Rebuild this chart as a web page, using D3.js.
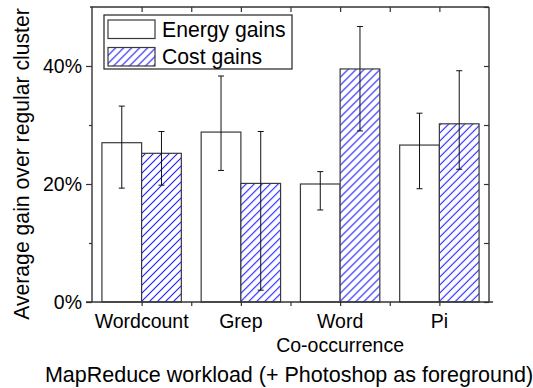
<!DOCTYPE html>
<html>
<head>
<meta charset="utf-8">
<script src="https://cdn.jsdelivr.net/npm/d3@7"></script>
<style>
  body { margin: 0; background: #fff; }
  svg { display: block; font-family: "Liberation Sans", Arial, sans-serif; }
</style>
</head>
<body>
<svg id="chart" width="533" height="388"></svg>
<script>
// Workloads on the x axis (second line of a label goes below the first)
const categories = ["Wordcount", "Grep", "Word\nCo-occurrence", "Pi"];
const seriesNames = ["Energy gains", "Cost gains"];

// Average gains (%) and error bar extents (%)
const energyGains = [27.0, 28.8, 20.0, 26.6];
const energyLow   = [19.3, 22.3, 15.6, 19.2];
const energyHigh  = [33.2, 38.3, 22.1, 32.0];

const costGains   = [25.2, 20.1, 39.5, 30.2];
const costLow     = [19.8, 2.0, 29.0, 22.5];
const costHigh    = [28.9, 28.9, 46.7, 39.2];

const yMajorTicks = [0, 20, 40];
const yMinorTicks = [10, 30];

const svg = d3.select("#chart");
const margin = { top: 7, right: 44, bottom: 86, left: 92 };
const W = 533, H = 388;
const innerW = W - margin.left - margin.right;
const innerH = H - margin.top - margin.bottom;

const defs = svg.append("defs");
const hatch = defs.append("pattern")
  .attr("id", "hatch")
  .attr("patternUnits", "userSpaceOnUse")
  .attr("width", 8).attr("height", 8);
hatch.append("rect").attr("width", 8).attr("height", 8).attr("fill", "#fff");
hatch.append("path")
  .attr("d", "M-2,2 l4,-4 M0,8 l8,-8 M6,10 l4,-4")
  .attr("stroke", "#1c1cff").attr("stroke-width", 1.1);

const g = svg.append("g").attr("transform", `translate(${margin.left},${margin.top})`);

const x = d3.scaleBand().domain(categories).range([0, innerW]);
const xs = d3.scaleBand().domain(seriesNames).range([0, x.bandwidth()]).paddingOuter(0.25).paddingInner(0);
const y = d3.scaleLinear().domain([0, 50]).range([innerH, 0]);

const rows = categories.map((c, i) => ({
  cat: c,
  bars: [
    { s: seriesNames[0], v: energyGains[i], lo: energyLow[i], hi: energyHigh[i] },
    { s: seriesNames[1], v: costGains[i], lo: costLow[i], hi: costHigh[i] }
  ]
}));

// Bars
const grp = g.selectAll(".cat").data(rows).join("g")
  .attr("transform", d => `translate(${x(d.cat)},0)`);

grp.selectAll("rect").data(d => d.bars).join("rect")
  .attr("x", d => xs(d.s))
  .attr("width", xs.bandwidth())
  .attr("y", d => y(d.v))
  .attr("height", d => innerH - y(d.v))
  .attr("fill", d => d.s === seriesNames[0] ? "#fff" : "url(#hatch)")
  .attr("stroke", "#3a3a3a")
  .attr("stroke-width", 1.2);

// Error bars
const cap = 3;
const eb = grp.selectAll(".err").data(d => d.bars).join("g").attr("class", "err")
  .attr("transform", d => `translate(${xs(d.s) + xs.bandwidth() / 2},0)`)
  .attr("stroke", "#111").attr("stroke-width", 1);
eb.append("line").attr("y1", d => y(d.lo)).attr("y2", d => y(d.hi));
eb.append("line").attr("x1", -cap).attr("x2", cap).attr("y1", d => y(d.hi)).attr("y2", d => y(d.hi));
eb.append("line").attr("x1", -cap).attr("x2", cap).attr("y1", d => y(d.lo)).attr("y2", d => y(d.lo));

// Axes
const fmt = d => d + "%";
const axisColor = "#333";

const yLeft = g.append("g")
  .call(d3.axisLeft(y).tickValues(yMajorTicks).tickFormat(fmt).tickSize(6).tickPadding(4));
yLeft.append("g")
  .call(d3.axisLeft(y).tickValues(yMinorTicks).tickFormat("").tickSize(3));
yLeft.selectAll(".domain").filter((d, i, n) => n[i].parentNode !== yLeft.node()).remove();

const yRight = g.append("g").attr("transform", `translate(${innerW},0)`)
  .call(d3.axisLeft(y).tickValues(yMajorTicks.concat(yMinorTicks, [50])).tickFormat("").tickSize(5));

// Tick positions along x: category centres and the boundaries between them
const xTickPos = [];
categories.forEach((c, i) => {
  if (i > 0) xTickPos.push(x(c));
  xTickPos.push(x(c) + x.bandwidth() / 2);
});
const xPos = d3.scaleIdentity().domain([0, innerW]);

const xTop = g.append("g")
  .call(d3.axisBottom(xPos).tickValues(xTickPos).tickFormat("").tickSize(5).tickSizeOuter(0));
const xBot = g.append("g").attr("transform", `translate(0,${innerH})`)
  .call(d3.axisBottom(xPos).tickValues(xTickPos).tickFormat("").tickSize(4).tickSizeOuter(0));

[yLeft, yRight, xTop, xBot].forEach(a => {
  a.selectAll("path.domain").attr("stroke", axisColor).attr("stroke-width", 1.4);
  a.selectAll(".tick line").attr("stroke", axisColor).attr("stroke-width", 1.2);
});
yRight.select("path.domain").attr("d", `M0,0V${innerH}`);
yLeft.select("path.domain").attr("d", `M0,0V${innerH}`);
// bottom axis line runs slightly past the frame on the left
xBot.select("path.domain").attr("d", `M-6,0H${innerW + 4}`);
xTop.select("path.domain").attr("d", `M-2,0H${innerW}`);

yLeft.selectAll(".tick text")
  .attr("font-size", 19.5).attr("fill", "#000")
  .attr("font-family", "Liberation Sans, Arial, sans-serif");

// Category labels
const catLabels = g.append("g").attr("transform", `translate(0,${innerH})`);
categories.forEach(c => {
  const lines = c.split("\n");
  const t = catLabels.append("text")
    .attr("x", x(c) + x.bandwidth() / 2)
    .attr("y", 25.5)
    .attr("text-anchor", "middle")
    .attr("font-size", 19.5)
    .attr("fill", "#000");
  lines.forEach((ln, k) => {
    t.append("tspan").attr("x", x(c) + x.bandwidth() / 2).attr("dy", k === 0 ? 0 : 24.5).text(ln);
  });
});

// Axis titles
svg.append("text")
  .attr("x", 289).attr("y", 382)
  .attr("text-anchor", "middle")
  .attr("font-size", 21.5).attr("fill", "#000")
  .text("MapReduce workload (+ Photoshop as foreground)");

svg.append("text")
  .attr("transform", "translate(29,164) rotate(-90)")
  .attr("text-anchor", "middle")
  .attr("font-size", 21.2).attr("fill", "#000")
  .text("Average gain over regular cluster");

// Legend
const legend = svg.append("g").attr("transform", "translate(104,15)");
legend.append("rect")
  .attr("width", 188).attr("height", 54)
  .attr("fill", "#fff").attr("stroke", "#222").attr("stroke-width", 1.2);
seriesNames.forEach((s, i) => {
  const row = legend.append("g").attr("transform", `translate(4,${5 + i * 27.5})`);
  row.append("rect")
    .attr("width", 47).attr("height", 18.5)
    .attr("fill", i === 0 ? "#fff" : "url(#hatch)")
    .attr("stroke", "#3a3a3a").attr("stroke-width", 1.2);
  row.append("text")
    .attr("x", 54).attr("y", 16.5)
    .attr("font-size", 21.2).attr("fill", "#000")
    .text(s);
});
</script>
</body>
</html>
